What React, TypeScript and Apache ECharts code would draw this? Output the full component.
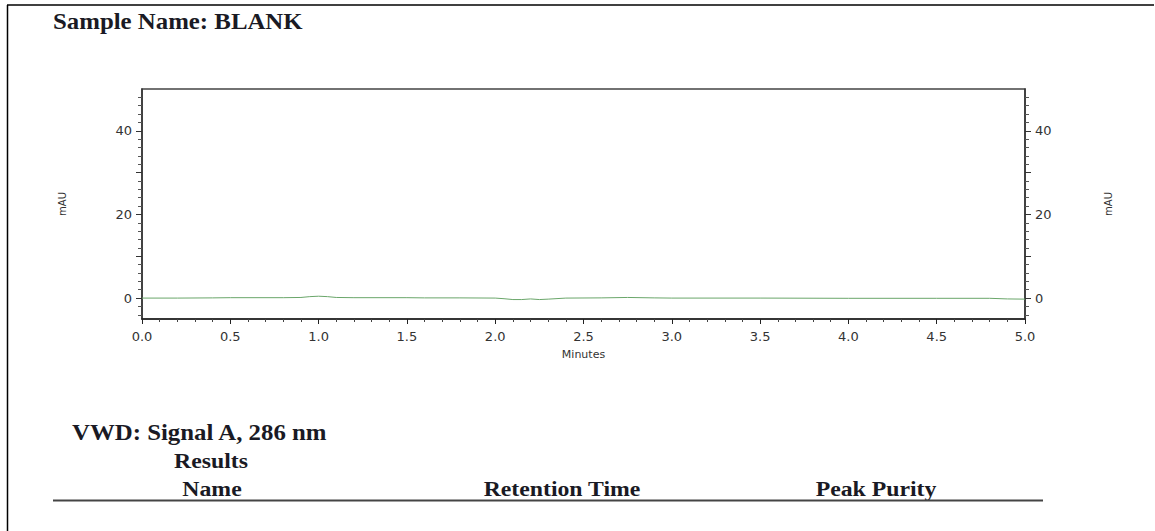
import React, { useEffect, useRef } from "react";
import * as echarts from "echarts";

const times = [0, 0.2, 0.4, 0.5, 0.8, 0.9, 0.95, 1.0, 1.05, 1.1, 1.2, 1.5, 1.6, 1.8, 2.0, 2.05, 2.1, 2.15, 2.2, 2.25, 2.3, 2.4, 2.6, 2.75, 2.9, 3.0, 3.5, 4.0, 4.5, 4.8, 4.9, 5.0];
const signal = [0, 0, 0.05, 0.1, 0.1, 0.15, 0.35, 0.45, 0.35, 0.15, 0.1, 0.1, 0.05, 0.05, 0, -0.15, -0.35, -0.35, -0.2, -0.35, -0.25, 0, 0.05, 0.15, 0.05, 0, 0, -0.05, -0.05, -0.05, -0.2, -0.25];
const yLabelValues = [0, 20, 40];
const yMajorTicks = [0, 10, 20, 30, 40];
const yMinorTicks = [-4, -2, 2, 4, 6, 8, 12, 14, 16, 18, 22, 24, 26, 28, 32, 34, 36, 38, 42, 44, 46, 48];
const titleText = "Sample Name: BLANK";
const signalText = "VWD: Signal A, 286 nm";
const resultsText = "Results";
const columns = ["Name", "Retention Time", "Peak Purity"];

const serif = "'Liberation Serif', 'Times New Roman', serif";
const sans = "'DejaVu Sans', Arial, sans-serif";

export default function App() {
  const ref = useRef<HTMLDivElement>(null);
  useEffect(() => {
    const chart = echarts.init(ref.current!, null, { renderer: "svg" });
    const yBase = { type: "value", min: -5, max: 50, splitLine: { show: false } };
    const mkMajor = (pos: string, gap: number) => ({
      ...yBase,
      position: pos,
      name: "mAU",
      nameLocation: "middle",
      nameRotate: 90,
      nameGap: gap,
      nameTextStyle: { fontFamily: sans, fontSize: 10, color: "#333" },
      axisLine: { show: true, onZero: false, lineStyle: { color: "#333", width: 1.5 } },
      axisTick: { show: true, customValues: yMajorTicks, length: 6, lineStyle: { color: "#333" } },
      axisLabel: { show: true, customValues: yLabelValues, margin: 10, fontFamily: sans, fontSize: 13, color: "#333" },
    });
    const mkMinor = (pos: string) => ({
      ...yBase,
      position: pos,
      axisLine: { show: false, onZero: false },
      axisTick: { show: true, customValues: yMinorTicks, length: 4, lineStyle: { color: "#555" } },
      axisLabel: { show: false },
    });
    const colX = [212, 562, 876];
    const txt = (text: string, x: number, y: number, size: number, align: string) => ({
      type: "text",
      x,
      y,
      scaleX: 1.08,
      style: { text, font: `bold ${size}px ${serif}`, fill: "#1a1a24", align, verticalAlign: "middle" },
    });
    chart.setOption({
      animation: false,
      backgroundColor: "#fff",
      grid: { left: 142, right: 130, top: 89, bottom: 212, show: true, borderColor: "#444", borderWidth: 1.5 },
      xAxis: {
        type: "value",
        min: 0,
        max: 5,
        interval: 0.5,
        name: "Minutes",
        nameLocation: "middle",
        nameGap: 30,
        nameTextStyle: { fontFamily: sans, fontSize: 11, color: "#333" },
        axisLine: { show: true, onZero: false, lineStyle: { color: "#222", width: 1.5 } },
        axisTick: { show: true, length: 5, lineStyle: { color: "#222" } },
        minorTick: { show: true, splitNumber: 5, length: 3, lineStyle: { color: "#444" } },
        splitLine: { show: false },
        axisLabel: { margin: 11, fontFamily: sans, fontSize: 13, color: "#333", formatter: (v: number) => v.toFixed(1) },
      },
      yAxis: [mkMajor("left", 75), mkMinor("left"), mkMajor("right", 78), mkMinor("right")],
      series: [
        {
          type: "line",
          yAxisIndex: 0,
          data: times.map((t, i) => [t, signal[i]]),
          showSymbol: false,
          lineStyle: { color: "#6aa66a", width: 1 },
        },
      ],
      graphic: [
        { type: "line", shape: { x1: 7.5, y1: 5, x2: 7.5, y2: 531 }, style: { stroke: "#000", lineWidth: 1.5 } },
        { type: "line", shape: { x1: 7, y1: 5, x2: 1154, y2: 5 }, style: { stroke: "#000", lineWidth: 1.5 } },
        txt(titleText, 53, 21, 23, "left"),
        txt(signalText, 72, 432, 23, "left"),
        txt(resultsText, 211, 461, 22, "center"),
        ...columns.map((c, i) => txt(c, colX[i], 489, 22, "center")),
        { type: "line", shape: { x1: 53, y1: 500.5, x2: 1043, y2: 500.5 }, style: { stroke: "#444", lineWidth: 2 } },
      ],
    });
    return () => chart.dispose();
  }, []);
  return <div ref={ref} style={{ position: "fixed", left: 0, top: 0, width: 1155, height: 531 }} />;
}
